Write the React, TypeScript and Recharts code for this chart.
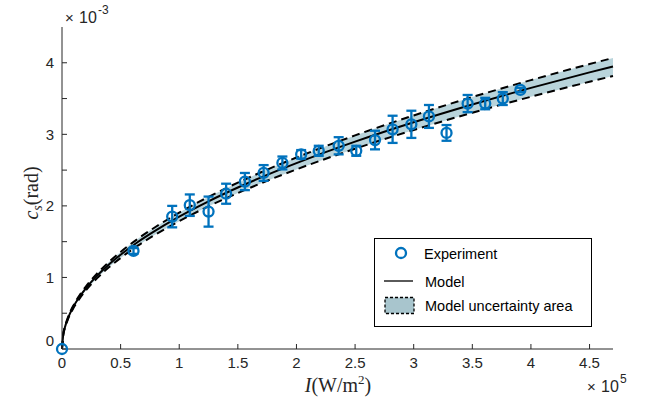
import React from "react";
import { ComposedChart, XAxis, YAxis, Area, Line, Scatter, ErrorBar } from "recharts";

// x in units of 1e5 W/m^2, y in units of 1e-3 rad
const modelX = [0, 0.01, 0.025, 0.05, 0.1, 0.15, 0.2, 0.3, 0.4, 0.5, 0.65, 0.8, 1, 1.25, 1.5, 1.75, 2, 2.5, 3, 3.5, 4, 4.5, 4.7];
const modelY = [0, 0.194, 0.303, 0.426, 0.599, 0.73, 0.841, 1.025, 1.181, 1.317, 1.499, 1.658, 1.85, 2.064, 2.257, 2.434, 2.598, 2.898, 3.169, 3.418, 3.649, 3.866, 3.949];
const upperY = [0, 0.2, 0.312, 0.439, 0.617, 0.752, 0.866, 1.056, 1.216, 1.357, 1.544, 1.708, 1.906, 2.126, 2.325, 2.507, 2.676, 2.985, 3.264, 3.521, 3.758, 3.982, 4.067];
const lowerY = [0, 0.187, 0.293, 0.412, 0.579, 0.705, 0.812, 0.99, 1.141, 1.272, 1.448, 1.602, 1.787, 1.994, 2.18, 2.351, 2.51, 2.799, 3.061, 3.302, 3.525, 3.735, 3.815];

const expX = [0, 0.61, 0.94, 1.09, 1.25, 1.4, 1.56, 1.72, 1.88, 2.04, 2.19, 2.36, 2.51, 2.67, 2.82, 2.98, 3.13, 3.28, 3.46, 3.61, 3.76, 3.91];
const expY = [0, 1.37, 1.85, 2.01, 1.92, 2.17, 2.34, 2.46, 2.6, 2.72, 2.77, 2.84, 2.77, 2.92, 3.07, 3.14, 3.25, 3.02, 3.43, 3.43, 3.5, 3.62];
const expErr = [0, 0.04, 0.15, 0.15, 0.21, 0.14, 0.12, 0.11, 0.09, 0.06, 0.07, 0.12, 0.07, 0.13, 0.19, 0.19, 0.16, 0.11, 0.12, 0.08, 0.09, 0.03];

const xTicks = [0, 0.5, 1, 1.5, 2, 2.5, 3, 3.5, 4, 4.5];
const yTicks = [0, 0.5, 1, 1.5, 2, 2.5, 3, 3.5, 4];

const BLUE = "#0072BD";
const INK = "#262626";
const SANS = "'Liberation Sans', Arial, Helvetica, sans-serif";
const SERIF = "'Liberation Serif', 'Times New Roman', serif";

const model = modelX.map((x, i) => ({ x, y: modelY[i], hi: upperY[i], lo: lowerY[i] }));
const experiment = expX.map((x, i) => ({ x, y: expY[i], err: expErr[i] }));

const XTick = (props: any) => {
  const { x, y, payload } = props;
  return (
    <text x={x} y={y} dy={11} textAnchor="middle" fontSize={15} fill={INK} fontFamily={SANS}>
      {String(payload.value)}
    </text>
  );
};

const YTick = (props: any) => {
  const { x, y, payload } = props;
  const v = payload.value;
  if (!Number.isInteger(v)) return <g />;
  return (
    <text x={x} y={y} dy={v === 0 ? -3 : 5.5} textAnchor="end" fontSize={15} fill={INK} fontFamily={SANS}>
      {String(v)}
    </text>
  );
};

const Dot = (props: any) => {
  const { cx, cy } = props;
  return <circle cx={cx} cy={cy} r={5} fill="none" stroke={BLUE} strokeWidth={2.3} />;
};

export default function App() {
  return (
    <div style={{ position: "absolute", left: 0, top: 0, width: 648, height: 403, background: "#fff" }}>
      <ComposedChart width={648} height={403} margin={{ top: 27, right: 35, bottom: 24, left: 12 }}>
        <XAxis
          xAxisId="b"
          type="number"
          dataKey="x"
          domain={[0, 4.7]}
          ticks={xTicks}
          height={30}
          tickSize={-5}
          tickMargin={13}
          tick={XTick}
          stroke={INK}
        />
        <XAxis
          xAxisId="t"
          orientation="top"
          type="number"
          dataKey="x"
          domain={[0, 4.7]}
          ticks={xTicks}
          height={0}
          tickSize={-5}
          tick={() => <g />}
          stroke={INK}
        />
        <YAxis
          yAxisId="l"
          type="number"
          domain={[0, 4.5]}
          ticks={yTicks}
          width={50}
          tickSize={-5}
          tickMargin={13}
          tick={YTick}
          stroke={INK}
        />
        <YAxis
          yAxisId="r"
          orientation="right"
          type="number"
          domain={[0, 4.5]}
          ticks={yTicks}
          width={0}
          tickSize={-5}
          tick={() => <g />}
          stroke={INK}
        />
        <Area
          xAxisId="b"
          yAxisId="l"
          data={model}
          dataKey={(d: any) => [d.lo, d.hi]}
          type="monotone"
          stroke="none"
          fill="#b9d4db"
          fillOpacity={1}
          isAnimationActive={false}
        />
        <Line xAxisId="b" yAxisId="l" data={model} dataKey="hi" type="monotone" stroke="#000" strokeWidth={2} strokeDasharray="8 5" dot={false} isAnimationActive={false} />
        <Line xAxisId="b" yAxisId="l" data={model} dataKey="lo" type="monotone" stroke="#000" strokeWidth={2} strokeDasharray="8 5" dot={false} isAnimationActive={false} />
        <Line xAxisId="b" yAxisId="l" data={model} dataKey="y" type="monotone" stroke="#000" strokeWidth={2} dot={false} isAnimationActive={false} />
        <Scatter xAxisId="b" yAxisId="l" data={experiment} dataKey="y" shape={Dot} isAnimationActive={false}>
          <ErrorBar dataKey="err" direction="y" width={5} stroke={BLUE} strokeWidth={2.3} />
        </Scatter>

        {/* exponent annotations */}
        <g fontFamily={SANS} fill={INK}>
          <text x={65} y={22.5} fontSize={15}>×</text>
          <text x={79} y={22.5} fontSize={16}>10</text>
          <text x={98} y={13.5} fontSize={12}>-3</text>
          <text x={587} y={392} fontSize={15}>×</text>
          <text x={601} y={392} fontSize={16}>10</text>
          <text x={620} y={383} fontSize={12}>5</text>
        </g>

        {/* axis titles */}
        <text x={338} y={392} textAnchor="middle" fontSize={20} fill={INK} fontFamily={SERIF}>
          <tspan fontStyle="italic">I</tspan>(W/m
          <tspan dy={-8} fontSize={13}>2</tspan>
          <tspan dy={8}>)</tspan>
        </text>
        <text transform="translate(38,193) rotate(-90)" textAnchor="middle" fontSize={20} fill={INK} fontFamily={SERIF}>
          <tspan fontStyle="italic">c</tspan>
          <tspan fontStyle="italic" fontSize={14} dy={4}>s</tspan>
          <tspan dy={-4}>(rad)</tspan>
        </text>

        {/* legend */}
        <g fontFamily={SANS} fontSize={14.5} fill="#000">
          <rect x={374.5} y={238.5} width={217} height={88} fill="#fff" stroke="#000" strokeWidth={1} />
          <circle cx={401} cy={253} r={5} fill="none" stroke={BLUE} strokeWidth={2.3} />
          <text x={424} y={258.5}>Experiment</text>
          <line x1={384} y1={281} x2={413} y2={281} stroke="#000" strokeWidth={1.3} />
          <text x={425} y={286.5}>Model</text>
          <rect x={385} y={297.5} width={29} height={16} fill="#a8c5cd" stroke="#000" strokeWidth={1.3} strokeDasharray="3 2" />
          <text x={425} y={310.5}>Model uncertainty area</text>
        </g>
      </ComposedChart>
    </div>
  );
}
